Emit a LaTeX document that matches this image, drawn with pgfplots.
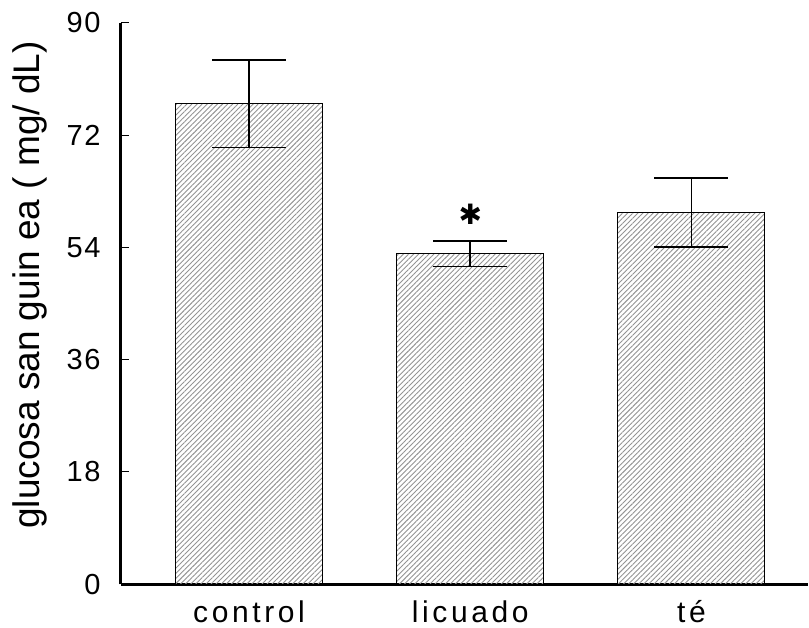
\documentclass[border=0pt]{standalone}
\usepackage{fontspec}
\setmainfont{Liberation Sans}
\newfontfamily\ticfont[LetterSpace=6]{Liberation Sans}
\newfontfamily\xlabfont[LetterSpace=12]{Liberation Sans}
\newfontfamily\symfont{DejaVu Sans}
\usepackage{pgfplots}
\pgfplotsset{compat=1.18}
\usetikzlibrary{patterns.meta}
\begin{document}
\begin{tikzpicture}
\useasboundingbox (-60.5pt,-21.35pt) rectangle (344pt,292.15pt);
\begin{axis}[
  at={(0,0)}, anchor=south west,
  scale only axis,
  width=343.5pt, height=280.8pt,
  xmin=-0.579, xmax=2.527,
  ymin=0, ymax=90,
  ytick={0,18,36,54,72,90},
  xtick={0,1,2},
  xticklabels={control,licuado,té},
  axis x line=bottom, axis y line=left,
  axis line style={-, line width=1.5pt},
  tick align=inside,
  major tick length=4pt,
  ytick style={line width=0.5pt, black},
  xtick style={draw=none},
  /pgf/number format/assume math mode=true,
  yticklabel style={font=\ticfont\fontsize{14.5pt}{16pt}\selectfont, inner sep=0pt, anchor=east, xshift=-10pt},
  xticklabel style={font=\xlabfont\fontsize{15pt}{17pt}\selectfont, inner sep=0pt, anchor=north, yshift=-8pt},
  ylabel={glucosa san guin ea ( mg/ dL)},
  ylabel style={font=\fontsize{18.5pt}{21pt}\selectfont, at={(axis description cs:-0.1325,0.533)}, anchor=center, inner sep=0pt},
  clip=false,
]
\addplot[ybar, bar width=73.5pt, draw=black, line width=0.5pt,
  pattern={Lines[angle=45, distance=1.8pt, line width=0.45pt]}, pattern color=gray!85,
  error bars/.cd, y dir=both, y explicit,
  error bar style={line width=0.8pt, black},
  error mark options={rotate=90, mark size=18.5pt, line width=0.8pt, black}]
  coordinates {
    (0,77.0) +- (0,7.0)
    (1,53.0) +- (0,2.05)
    (2,59.6) +- (0,5.5)
  };
\node[font=\symfont\bfseries\fontsize{14pt}{16pt}\selectfont, inner sep=0pt] at (axis cs:1,59.3) {✱};
\end{axis}
\end{tikzpicture}
\end{document}
